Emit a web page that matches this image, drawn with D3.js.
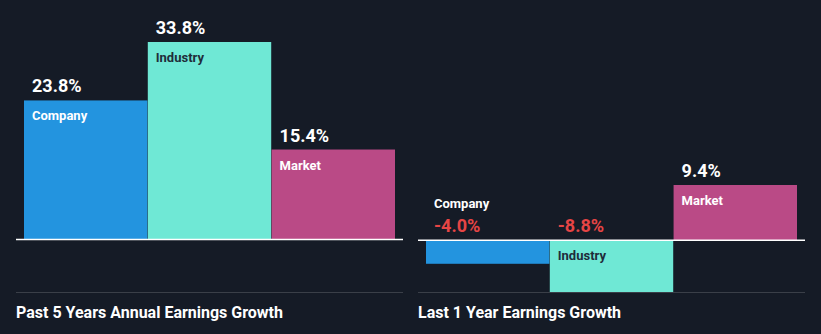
<!DOCTYPE html>
<html><head><meta charset="utf-8">
<script src="https://cdn.jsdelivr.net/npm/d3@7"></script>
<style>
html,body{margin:0;padding:0;background:#151b26;}
svg{display:block;font-family:Roboto,"Noto Sans",sans-serif;}
</style></head>
<body><svg id="chart" width="821" height="334"></svg>
<script>
const categories = ["Company", "Industry", "Market"];
const past5Years = [23.8, 33.8, 15.4];
const last1Year = [-4.0, -8.8, 9.4];
const panelTitles = ["Past 5 Years Annual Earnings Growth", "Last 1 Year Earnings Growth"];
const colors = ["#2394df", "#6fe8d5", "#ba4a86"];
const labelColors = ["#ffffff", "#1f2d3a", "#ffffff"];

const svg = d3.select("#chart");
svg.append("rect").attr("width", 821).attr("height", 334).attr("fill", "#151b26");

function panel(values, title, x0, x1, yScale) {
  const g = svg.append("g");
  const x = d3.scaleBand().domain(categories).range([x0 + 8, x1 - 8]).paddingInner(0.003);
  const y0 = yScale(0);
  const data = categories.map((c, i) => ({c, v: values[i], i}));
  g.selectAll("rect.bar").data(data).enter().append("rect")
    .attr("class", "bar")
    .attr("x", d => x(d.c))
    .attr("width", x.bandwidth())
    .attr("y", d => Math.min(yScale(d.v), y0))
    .attr("height", d => Math.abs(yScale(d.v) - y0))
    .attr("fill", d => colors[d.i]);
  g.append("line").attr("x1", x0).attr("x2", x1).attr("y1", y0).attr("y2", y0)
    .attr("stroke", "#ffffff").attr("stroke-width", 1.5);
  g.append("line").attr("x1", x0).attr("x2", x1).attr("y1", 292.5).attr("y2", 292.5)
    .attr("stroke", "#3a3f48").attr("stroke-width", 1);
  data.forEach(d => {
    const bx = x(d.c) + 8;
    const valTxt = (d.v < 0 ? "-" : "") + Math.abs(d.v).toFixed(1) + "%";
    if (d.v >= 0) {
      const top = yScale(d.v);
      g.append("text").attr("x", bx).attr("y", top - 8).text(valTxt)
        .attr("fill", "#ffffff").attr("font-size", 18).attr("font-weight", 700);
      g.append("text").attr("x", bx).attr("y", top + 20).text(d.c)
        .attr("fill", labelColors[d.i]).attr("font-size", 13).attr("font-weight", 700);
    } else {
      g.append("text").attr("x", bx).attr("y", y0 - 8).text(valTxt)
        .attr("fill", "#e64545").attr("font-size", 18).attr("font-weight", 700);
      const bottom = yScale(d.v);
      if (bottom - y0 > 30) {
        g.append("text").attr("x", bx).attr("y", y0 + 20).text(d.c)
          .attr("fill", labelColors[d.i]).attr("font-size", 13).attr("font-weight", 700);
      } else {
        g.append("text").attr("x", bx).attr("y", y0 - 32).text(d.c)
          .attr("fill", "#ffffff").attr("font-size", 13).attr("font-weight", 700);
      }
    }
  });
  g.append("text").attr("x", x0).attr("y", 318).text(title)
    .attr("fill", "#ffffff").attr("font-size", 16).attr("font-weight", 700);
}

const yLeft = d3.scaleLinear().domain([0, d3.max(past5Years)]).range([239.5, 42]);
const yRight = d3.scaleLinear().domain([d3.min(last1Year), d3.max(last1Year)]).range([292, 185]);
panel(past5Years, panelTitles[0], 16, 403, yLeft);
panel(last1Year, panelTitles[1], 418, 805, yRight);
</script></body></html>
